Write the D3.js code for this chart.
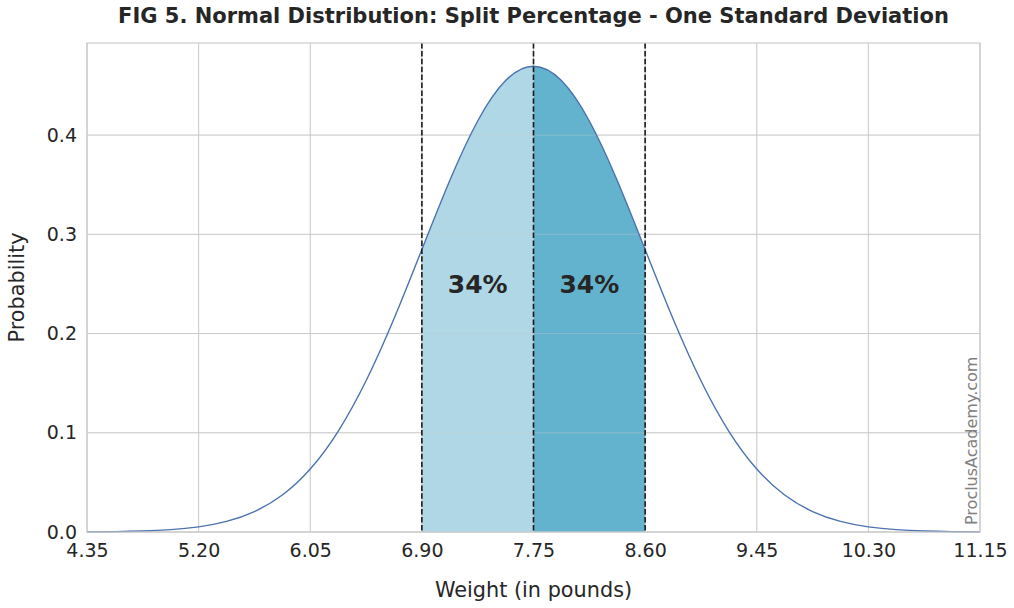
<!DOCTYPE html>
<html><head><meta charset="utf-8">
<script src="https://cdn.jsdelivr.net/npm/d3@7"></script>
<style>body{margin:0;background:#fff;}text{font-family:"DejaVu Sans",sans-serif;}</style>
</head><body>
<svg id="c" width="1014" height="608"></svg>
<script>
// Data
const xTicks = [4.35, 5.20, 6.05, 6.90, 7.75, 8.60, 9.45, 10.30, 11.15];
const yTicks = [0.0, 0.1, 0.2, 0.3, 0.4];
const curveX = [4.35,4.5625,4.775,4.9875,5.20,5.4125,5.625,5.8375,6.05,6.2625,6.475,6.6875,6.90,7.1125,7.325,7.5375,7.75,
  7.9625,8.175,8.3875,8.60,8.8125,9.025,9.2375,9.45,9.6625,9.875,10.0875,10.30,10.5125,10.725,10.9375,11.15];
const curveY = [0.00016,0.00042,0.00103,0.00239,0.00521,0.01069,0.02062,0.03734,0.06352,0.10151,0.15238,0.21488,0.28467,0.35428,0.41420,0.45491,0.46934,
  0.45491,0.41420,0.35428,0.28467,0.21488,0.15238,0.10151,0.06352,0.03734,0.02062,0.01069,0.00521,0.00239,0.00103,0.00042,0.00016];
const bands = [{from:6.90,to:7.75,label:"34%",color:"#b0d7e5"},{from:7.75,to:8.60,label:"34%",color:"#64b3ce"}];
const markers = [6.90, 7.75, 8.60];

const svg = d3.select("#c");
const L=87,R=980,T=43,B=532;
const x = d3.scaleLinear().domain([4.35,11.15]).range([L,R]);
const y = d3.scaleLinear().domain([0,0.4928]).range([B,T]);
const pts = curveX.map((v,i)=>({x:v,y:curveY[i]}));
const line = d3.line().x(d=>x(d.x)).y(d=>y(d.y)).curve(d3.curveNatural);

// grid under
function grid(op){
  const g = svg.append("g").attr("stroke","#cccccc").attr("stroke-opacity",op);
  g.selectAll(".gx").data(xTicks).join("line").attr("x1",d=>x(d)).attr("x2",d=>x(d)).attr("y1",T).attr("y2",B);
  g.selectAll(".gy").data(yTicks).join("line").attr("x1",L).attr("x2",R).attr("y1",d=>y(d)).attr("y2",d=>y(d));
}
grid(1);

// fills: sample the rendered curve path for band region
const pathNode = svg.append("path").attr("d",line(pts)).attr("fill","none").attr("stroke","none").node();
const total = pathNode.getTotalLength();
const samples=[];
for(let i=0;i<=3000;i++){const p=pathNode.getPointAtLength(total*i/3000);samples.push(p);}
bands.forEach(b=>{
  const x0=x(b.from),x1=x(b.to);
  const inner=samples.filter(p=>p.x>=x0&&p.x<=x1);
  const topPts=[[x0,y(curveY[curveX.indexOf(b.from)])],...inner.map(p=>[p.x,p.y]),[x1,y(curveY[curveX.indexOf(b.to)])]];
  const poly=[[x0,y(0)],...topPts,[x1,y(0)]];
  svg.append("path").attr("d","M"+poly.map(p=>p.join(",")).join("L")+"Z").attr("fill",b.color);
});
grid(0.35);

// curve
svg.append("path").attr("d",line(pts)).attr("fill","none").attr("stroke","#4c72b0").attr("stroke-width",1.4);

// dashed lines
svg.selectAll(".dl").data(markers).join("line").attr("x1",d=>x(d)).attr("x2",d=>x(d)).attr("y1",T).attr("y2",B)
  .attr("stroke","#1a1a1a").attr("stroke-width",1.6).attr("stroke-dasharray","5.5,2.4");

// frame
svg.append("rect").attr("x",L).attr("y",T).attr("width",R-L).attr("height",B-T).attr("fill","none").attr("stroke","#cccccc").attr("stroke-width",1.2);

// band labels
svg.selectAll(".bl").data(bands).join("text").attr("x",d=>x((d.from+d.to)/2)).attr("y",y(0.25)+9)
  .attr("text-anchor","middle").attr("font-size",25).attr("font-weight","bold").attr("fill","#262626").text(d=>d.label);

// axes
const xAxis = d3.axisBottom(x).tickValues(xTicks).tickFormat(d3.format(".2f")).tickSize(0).tickPadding(12);
const xa = svg.append("g").attr("transform",`translate(0,${B})`).call(xAxis);
const yAxis = d3.axisLeft(y).tickValues(yTicks).tickFormat(d3.format(".1f")).tickSize(0).tickPadding(10);
const ya = svg.append("g").attr("transform",`translate(${L},0)`).call(yAxis);
[xa,ya].forEach(a=>{a.select(".domain").remove();a.selectAll("text").attr("font-size",19).attr("fill","#262626").attr("font-family","DejaVu Sans");});

// titles
svg.append("text").attr("x",(L+R)/2).attr("y",23).attr("text-anchor","middle").attr("font-size",21).attr("font-weight","bold").attr("fill","#262626")
  .text("FIG 5. Normal Distribution: Split Percentage - One Standard Deviation");
svg.append("text").attr("x",(L+R)/2).attr("y",597).attr("text-anchor","middle").attr("font-size",20.8).attr("fill","#262626").text("Weight (in pounds)");
svg.append("text").attr("transform",`translate(24,${(T+B)/2}) rotate(-90)`).attr("text-anchor","middle").attr("font-size",20.8).attr("fill","#262626").text("Probability");
// watermark
svg.append("text").attr("transform",`translate(977,525) rotate(-90)`).attr("text-anchor","start").attr("font-size",16).attr("fill","#808080").text("ProclusAcademy.com");
</script>
</body></html>
